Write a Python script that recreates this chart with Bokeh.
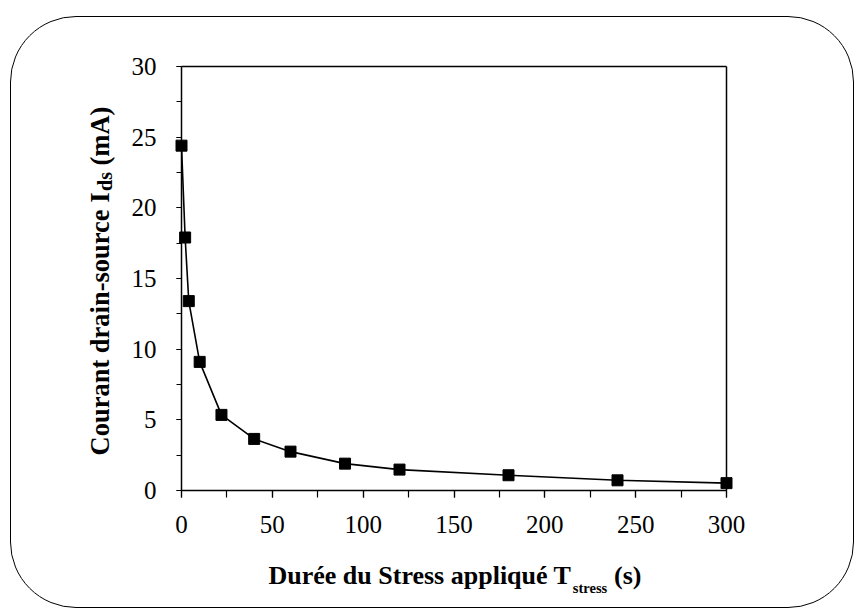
import math
from bokeh.plotting import figure
from bokeh.models import Range1d, SingleIntervalTicker, FixedTicker, LinearAxis
from bokeh.core.properties import value
from bokeh.embed import file_html
from bokeh.resources import INLINE

# ---- data ----
t_stress = [0, 2, 4, 10, 22, 40, 60, 90, 120, 180, 240, 300]
i_ds = [24.4, 17.9, 13.4, 9.1, 5.35, 3.65, 2.75, 1.9, 1.48, 1.08, 0.72, 0.52]

x_title_main = "Durée du Stress appliqué T"
x_title_sub = "stress"
x_title_end = "(s)"
y_title_main = "Courant drain-source I"
y_title_sub = "ds"
y_title_end = "(mA)"

X0, X1, Y0, Y1 = 0, 300, 0, 30          # axis extents

# ---- layout (page pixels of the reference) ----
BOX_L, BOX_T, BOX_R, BOX_B = 10, 16, 856, 610   # rounded outer border
BW = 1                                          # css border width
CAN_L, CAN_T = BOX_L + BW, BOX_T + BW
W = BOX_R - BOX_L - 2 * BW
H = BOX_B - BOX_T - 2 * BW
FR_L, FR_T, FR_R, FR_B = 181, 66, 726, 490      # axes box

def px2x(px):
    return X0 + (px - FR_L) * (X1 - X0) / (FR_R - FR_L)

def py2y(py):
    return Y0 + (FR_B - py) * (Y1 - Y0) / (FR_B - FR_T)

# Times / Liberation Serif Bold advance widths (per 1000 em)
TB = {' ': 250, 'C': 722, 'o': 500, 'u': 556, 'r': 444, 'a': 500, 'n': 556,
      't': 333, 'd': 556, 'i': 278, '-': 333, 's': 389, 'c': 444, 'e': 444,
      'I': 389, '(': 333, 'm': 833, 'A': 722, ')': 333, 'D': 722, 'é': 444,
      'S': 556, 'p': 556, 'l': 278, 'q': 556, 'T': 667}

def tw(s, size):
    return sum(TB.get(c, 500) for c in s) * size / 1000.0

FONT = "Liberation Serif"

p = figure(width=W, height=H, output_backend="svg", toolbar_location=None,
           x_range=Range1d(px2x(CAN_L), px2x(CAN_L + W)),
           y_range=Range1d(py2y(CAN_T + H), py2y(CAN_T)),
           x_axis_location=None, y_axis_location=None,
           min_border=0, background_fill_color=None, border_fill_color=None,
           outline_line_color=None,
           margin=(BOX_T, 0, 0, BOX_L),
           styles={"border": f"{BW}px solid black", "border-radius": "66px"})
p.grid.visible = False

def style_axis(ax, tick_out, standoff):
    ax.axis_line_color = "black"
    ax.axis_line_width = 1.5
    ax.major_tick_line_color = "black"
    ax.minor_tick_line_color = "black"
    ax.major_tick_line_width = 1.2
    ax.minor_tick_line_width = 1.2
    ax.major_tick_in = 0
    ax.minor_tick_in = 0
    ax.major_tick_out = tick_out
    ax.minor_tick_out = tick_out
    ax.major_label_standoff = standoff
    ax.major_label_text_font = FONT
    ax.major_label_text_font_size = "25px"
    ax.major_label_text_color = "black"

xaxis = LinearAxis(fixed_location=Y0, bounds=(X0, X1),
                   ticker=SingleIntervalTicker(interval=50, num_minor_ticks=2))
style_axis(xaxis, 7, 18)
p.add_layout(xaxis, "below")

yaxis = LinearAxis(fixed_location=X0, bounds=(Y0, Y1),
                   ticker=SingleIntervalTicker(interval=5, num_minor_ticks=2))
style_axis(yaxis, 5, 20)
p.add_layout(yaxis, "left")

# closing lines of the axes box (top and right), no ticks
for loc, side, bnds in ((Y1, "above", (X0, X1)), (X1, "right", (Y0, Y1))):
    ax = LinearAxis(fixed_location=loc, bounds=bnds, ticker=FixedTicker(ticks=[]))
    ax.axis_line_color = "black"
    ax.axis_line_width = 1.5
    ax.major_tick_line_color = None
    ax.minor_tick_line_color = None
    p.add_layout(ax, side)

p.line(t_stress, i_ds, line_color="black", line_width=1.6)
p.scatter(t_stress, i_ds, marker="square", size=11, fill_color="black", line_color="black")

common = dict(text_font=value(FONT), text_font_style="bold", text_color="black",
              text_align="left", text_baseline="alphabetic")

# ---- x axis title with subscript ----
XF, XSF = 26, 14.5
xl, xb = 268, 575
xs = xl + tw(x_title_main, XF) + 1
xe = xs + tw(x_title_sub, XSF) + tw(" ", XF)
p.text(x=[px2x(xl), px2x(xe)], y=[py2y(xb), py2y(xb)], text=[x_title_main, x_title_end],
       text_font_size=value(f"{XF}px"), **common)
p.text(x=[px2x(xs)], y=[py2y(xb + 12)], text=[x_title_sub],
       text_font_size=value(f"{XSF}px"), **common)

# ---- y axis title with subscript (rotated) ----
YF, YSF = 26.5, 20
yb, ys0 = 99, 455
ys1 = ys0 - tw(y_title_main, YF) - 1
ys2 = ys1 - tw(y_title_sub, YSF) - tw(" ", YF)
p.text(x=[px2x(yb), px2x(yb)], y=[py2y(ys0), py2y(ys2)], text=[y_title_main, y_title_end],
       text_font_size=value(f"{YF}px"), angle=math.pi / 2, **common)
p.text(x=[px2x(yb + 5)], y=[py2y(ys1)], text=[y_title_sub],
       text_font_size=value(f"{YSF}px"), angle=math.pi / 2, **common)

open("out.html", "w").write(file_html(p, INLINE))
